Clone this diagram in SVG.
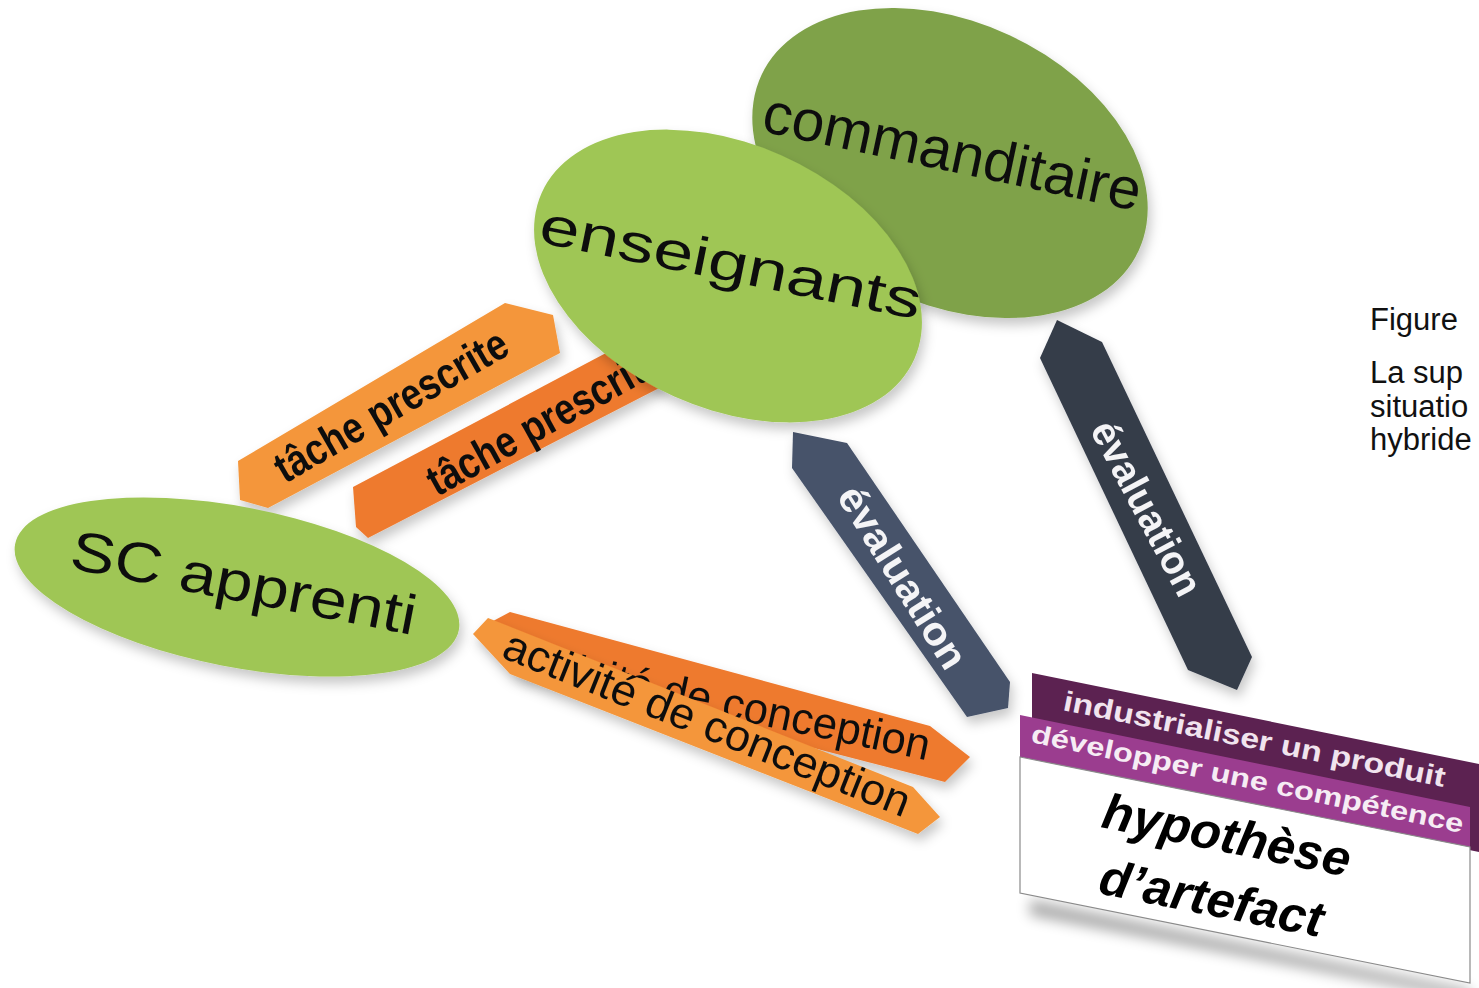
<svg xmlns="http://www.w3.org/2000/svg" width="1479" height="988" viewBox="0 0 1479 988">
<defs>
<filter id="sh" x="-20%" y="-20%" width="140%" height="150%">
<feDropShadow dx="3" dy="7" stdDeviation="6" flood-color="#000" flood-opacity="0.22"/>
</filter>
<filter id="blur" x="-20%" y="-50%" width="140%" height="200%">
<feGaussianBlur stdDeviation="7"/>
</filter>
</defs>
<style>
.lbl{font-family:"Liberation Sans",Arial,sans-serif;fill:#111;}
.blbl{font-family:"Liberation Sans",Arial,sans-serif;fill:#111;font-weight:bold;}
.wlbl{font-family:"Liberation Sans",Arial,sans-serif;fill:#f4f4f6;font-weight:bold;}
.plbl{font-family:"Liberation Sans",Arial,sans-serif;font-weight:bold;}
.cap{font-family:"Liberation Sans",Arial,sans-serif;fill:#111;font-size:31px;}
.orA{fill:#f4963a;}
.orB{fill:#ee7a2f;}
.evA{fill:#46526a;}
.evB{fill:#343c4a;}
.lg{fill:#9fc655;}
.dg{fill:#7fa24a;}
</style>
<rect width="1479" height="988" fill="#ffffff"/>

<g id="connectors">
  <g id="tache-prescrite-2" filter="url(#sh)">
    <polygon class="orB" points="353,487 640,335 665,385 368,538 356,527"/>
    <text class="blbl" x="437" y="497" font-size="44" textLength="262" lengthAdjust="spacingAndGlyphs" transform="rotate(-29 437 497)">tâche prescrite</text>
  </g>
  <g id="tache-prescrite-1" filter="url(#sh)">
    <polygon class="orA" points="238,461 505,303 553,315 560,353 268,508 240,500"/>
    <text class="blbl" x="285" y="484" font-size="44" textLength="262" lengthAdjust="spacingAndGlyphs" transform="rotate(-30 285 484)">tâche prescrite</text>
  </g>
  <g id="activite-2" filter="url(#sh)">
    <polygon class="orB" points="480,628 510,612 930,726 970,757 945,782 520,672"/>
    <text class="lbl" x="516" y="673" font-size="44" textLength="420" lengthAdjust="spacingAndGlyphs" transform="rotate(12 516 673)">activité de conception</text>
  </g>
  <g id="activite-1" filter="url(#sh)">
    <polygon class="orA" points="473,634 488,618 913,787 940,817 918,834 510,674"/>
    <text class="lbl" x="500" y="657" font-size="44" textLength="434" lengthAdjust="spacingAndGlyphs" transform="rotate(21.7 500 657)">activité de conception</text>
  </g>
  <g id="evaluation-1" filter="url(#sh)">
    <polygon class="evA" points="793,432 847,443 1010,682 1008,708 967,717 792,468"/>
    <text class="wlbl" x="903" y="591" font-size="40" text-anchor="middle" textLength="208" lengthAdjust="spacingAndGlyphs" transform="rotate(58 903 577)">évaluation</text>
  </g>
  <g id="evaluation-2" filter="url(#sh)">
    <polygon class="evB" points="1057,320 1102,342 1252,657 1237,690 1188,670 1040,358"/>
    <text class="wlbl" x="1147" y="522" font-size="40" text-anchor="middle" textLength="192" lengthAdjust="spacingAndGlyphs" transform="rotate(62 1147 508)">évaluation</text>
  </g>
</g>

<g id="commanditaire" filter="url(#sh)">
  <ellipse class="dg" cx="950" cy="163" rx="208" ry="141" transform="rotate(25 950 163)"/>
  <text class="lbl" x="760" y="131" font-size="58" textLength="385" lengthAdjust="spacingAndGlyphs" transform="rotate(12 760 131)">commanditaire</text>
</g>

<g id="enseignants" filter="url(#sh)">
  <ellipse class="lg" cx="728" cy="276" rx="204" ry="132" transform="rotate(24 728 276)"/>
  <text class="lbl" x="537" y="242" font-size="54" textLength="388" lengthAdjust="spacingAndGlyphs" transform="rotate(11.5 537 242)">enseignants</text>
</g>

<g id="sc-apprenti" filter="url(#sh)">
  <ellipse class="lg" cx="237" cy="587" rx="226" ry="80" transform="rotate(11 237 587)"/>
  <text class="lbl" x="68" y="568" font-size="56" textLength="351" lengthAdjust="spacingAndGlyphs" transform="rotate(11 68 568)">SC apprenti</text>
</g>

<g id="artefact">
  <polygon points="1030,900 1470,990 1470,1000 1030,915" fill="#000" opacity="0.35" filter="url(#blur)"/>
  <polygon points="1032,673 1479,764 1479,852 1032,760" fill="#5c2251"/>
  <polygon points="1020,715 1470,807 1470,847 1020,757" fill="#9b3d8f"/>
  <polygon points="1020,757 1470,847 1470,983 1020,893" fill="#ffffff" stroke="#8a8a8a" stroke-width="1.2"/>
  <text class="plbl" x="1062" y="710" font-size="28" fill="#f1e4ee" textLength="389" lengthAdjust="spacingAndGlyphs" transform="rotate(11.4 1062 710)">industrialiser un produit</text>
  <text class="plbl" x="1030" y="742" font-size="26" fill="#f6ecf4" textLength="441" lengthAdjust="spacingAndGlyphs" transform="rotate(11.9 1030 742)">développer une compétence</text>
  <text class="plbl" x="1100" y="827" font-size="50" font-style="italic" fill="#000" textLength="252" lengthAdjust="spacingAndGlyphs" transform="rotate(11.4 1100 827)">hypothèse</text>
  <text class="plbl" x="1097" y="893" font-size="50" font-style="italic" fill="#000" textLength="227" lengthAdjust="spacingAndGlyphs" transform="rotate(11.2 1097 893)">d’artefact</text>
</g>

<g id="caption">
  <text class="cap" x="1370" y="330">Figure</text>
  <text class="cap" x="1370" y="383">La sup</text>
  <text class="cap" x="1370" y="417">situatio</text>
  <text class="cap" x="1370" y="450">hybride</text>
</g>
</svg>
